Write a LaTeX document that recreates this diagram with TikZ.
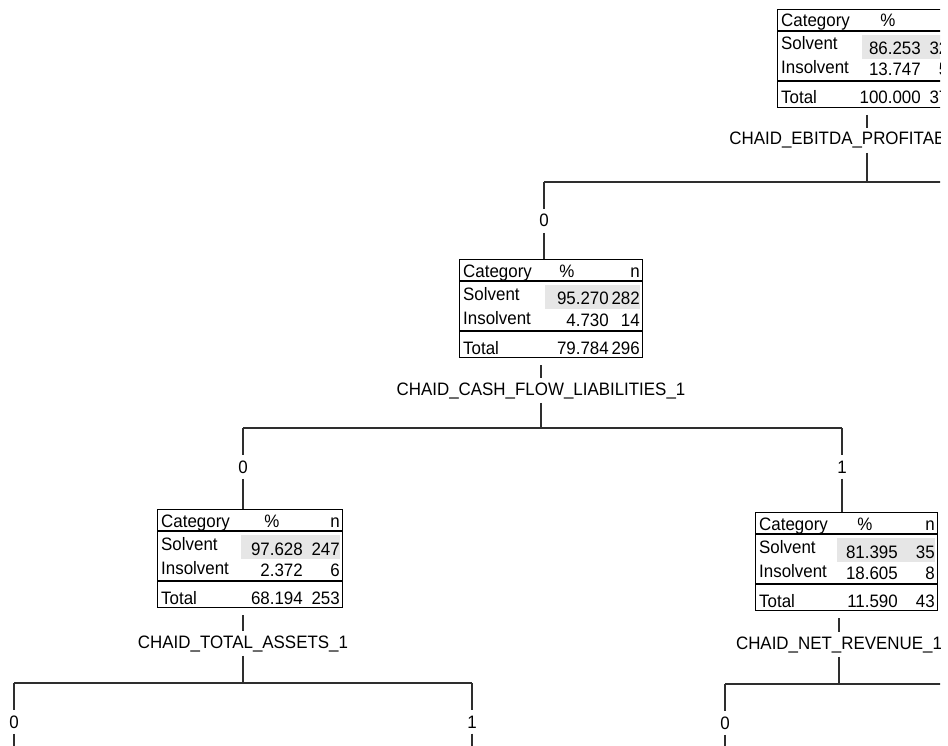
\documentclass[tikz,border=0pt]{standalone}
\usepackage{fontspec}
\setmainfont[FakeStretch=0.94]{Liberation Sans}
\usetikzlibrary{calc}
\definecolor{rowgrey}{HTML}{E6E6E6}
\definecolor{linegrey}{HTML}{2E2E2E}
\tikzset{
  txt/.style={font=\fontsize{18}{21}\selectfont, inner sep=0pt, text=black},
  cbox/.style={draw=black, line width=1pt, anchor=north west, minimum height=98pt, inner sep=0pt},
  sepline/.style={draw=black, line width=1.3pt},
  conn/.style={draw=linegrey, line width=1.1pt},
  splitlab/.style={txt, fill=white, inner xsep=2pt, inner ysep=4pt, anchor=base},
  vallab/.style={txt, fill=white, inner xsep=1pt, inner ysep=5.5pt, anchor=base},
}
% #1 name, #2 left, #3 top, #4 width, #5 "%" header centre offset, #6 grey band left offset
\newcommand\chaidbox[6]{%
  \node[cbox, minimum width=#4pt] (#1) at (#2,#3) {};
  \fill[rowgrey] ($(#1.north west)+(#6,26)$) rectangle ($(#1.north east)+(-3,50)$);
  \draw[sepline] ($(#1.north west)+(0,22)$) -- ($(#1.north east)+(0,22)$);
  \draw[sepline] ($(#1.north west)+(0,72)$) -- ($(#1.north east)+(0,72)$);
  \node[txt, anchor=base west] (#1-hc) at ($(#1.north west)+(4,18)$) {Category};
  \node[txt, anchor=base] (#1-hp) at ($(#1.north west)+(#5,18)$) {\%};
  \node[txt, anchor=base east] (#1-hn) at ($(#1.north east)+(-3,18)$) {n};
  \node[txt, anchor=base west] (#1-ls) at ($(#1.north west)+(4,41)$) {Solvent};
  \node[txt, anchor=base west] (#1-li) at ($(#1.north west)+(4,65)$) {Insolvent};
  \node[txt, anchor=base west] (#1-lt) at ($(#1.north west)+(4,95)$) {Total};
}
% #1 name, #2 pct right offset, #3 sol pct, #4 sol n, #5 ins pct, #6 ins n, #7 tot pct, #8 tot n
\newcommand\chaidvals[8]{%
  \node[txt, anchor=base east] (#1-sp) at ($(#1.north west)+(#2,46)$) {#3};
  \node[txt, anchor=base east] (#1-sn) at ($(#1.north east)+(-3,46)$) {#4};
  \node[txt, anchor=base east] (#1-ip) at ($(#1.north west)+(#2,67)$) {#5};
  \node[txt, anchor=base east] (#1-in) at ($(#1.north east)+(-3,67)$) {#6};
  \node[txt, anchor=base east] (#1-tp) at ($(#1.north west)+(#2,95)$) {#7};
  \node[txt, anchor=base east] (#1-tn) at ($(#1.north east)+(-3,95)$) {#8};
}
\begin{document}
\begin{tikzpicture}[x=1pt, y=-1pt]
\useasboundingbox[fill=white] (0,0) rectangle (948,746);
\begin{scope}
\clip (0,0) rectangle (940,746);

% ---------- boxes ----------
\chaidbox{root}{777}{9}{183}{111}{85}
\chaidvals{root}{144}{86.253}{320}{13.747}{51}{100.000}{371}

\chaidbox{b2}{459}{259}{183}{108}{86}
\chaidvals{b2}{150}{95.270}{282}{4.730}{14}{79.784}{296}

\chaidbox{b3}{157}{509}{185}{115}{84}
\chaidvals{b3}{146}{97.628}{247}{2.372}{6}{68.194}{253}

\chaidbox{b4}{755}{512}{182}{110}{82}
\chaidvals{b4}{143}{81.395}{35}{18.605}{8}{11.590}{43}

% ---------- level 1 ----------
\coordinate (h1) at (867,182);
\coordinate (h1l) at (544,182);
\coordinate (h1r) at (1000,182);
\node[splitlab] (s1) at (867,145) {CHAID\_EBITDA\_PROFITABILITY\_1};
\draw[conn] ($(root.south -| h1)+(0,7)$) -- (s1);
\draw[conn] (s1) -- (h1);
\draw[conn] (h1l) -- (h1r);
\node[vallab] (v10) at (544,227) {0};
\draw[conn] (h1l) -- (v10);
\draw[conn] (v10) -- (b2.north -| h1l);

% ---------- level 2 ----------
\coordinate (h2) at (541,428);
\coordinate (h2l) at (243,428);
\coordinate (h2r) at (842,428);
\node[splitlab] (s2) at (541,395) {CHAID\_CASH\_FLOW\_LIABILITIES\_1};
\draw[conn] ($(b2.south -| h2)+(0,7)$) -- (s2);
\draw[conn] (s2) -- (h2);
\draw[conn] (h2l) -- (h2r);
\node[vallab] (v20) at (243,473) {0};
\node[vallab] (v21) at (842,473) {1};
\draw[conn] (h2l) -- (v20);
\draw[conn] (v20) -- (b3.north -| h2l);
\draw[conn] (h2r) -- (v21);
\draw[conn] (v21) -- (b4.north -| h2r);

% ---------- level 3, left ----------
\coordinate (h3) at (243,683);
\coordinate (h3l) at (14,683);
\coordinate (h3r) at (472,683);
\coordinate (e30) at (14,760);
\coordinate (e31) at (472,760);
\node[splitlab] (s3) at (243,648) {CHAID\_TOTAL\_ASSETS\_1};
\draw[conn] ($(b3.south -| h3)+(0,7)$) -- (s3);
\draw[conn] (s3) -- (h3);
\draw[conn] (h3l) -- (h3r);
\node[vallab] (v30) at (14,728) {0};
\node[vallab] (v31) at (472,728) {1};
\draw[conn] (h3l) -- (v30);
\draw[conn] (v30) -- (e30);
\draw[conn] (h3r) -- (v31);
\draw[conn] (v31) -- (e31);

% ---------- level 3, right ----------
\coordinate (h4) at (839,684);
\coordinate (h4l) at (725,684);
\coordinate (h4r) at (1000,684);
\coordinate (e40) at (725,760);
\node[splitlab] (s4) at (839,649) {CHAID\_NET\_REVENUE\_1};
\draw[conn] ($(b4.south -| h4)+(0,7)$) -- (s4);
\draw[conn] (s4) -- (h4);
\draw[conn] (h4l) -- (h4r);
\node[vallab] (v40) at (725,729) {0};
\draw[conn] (h4l) -- (v40);
\draw[conn] (v40) -- (e40);
\end{scope}
\end{tikzpicture}
\end{document}
